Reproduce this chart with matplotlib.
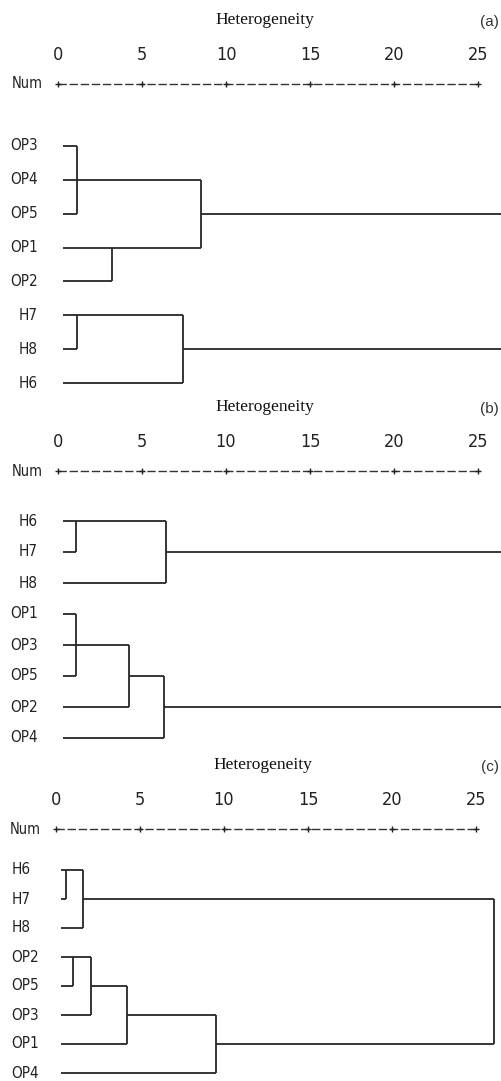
import matplotlib
matplotlib.use('Agg')
import matplotlib.pyplot as plt

# Dendrogram data (rescaled distance, 0-25)
leaves_a = ['OP3', 'OP4', 'OP5', 'OP1', 'OP2', 'H7', 'H8', 'H6']
# each merge: rows joined, height, row the new cluster continues from
merges_a = [([0, 1, 2], 1.1, 1), ([3, 4], 3.2, 3), ([1, 3], 8.5, 2),
            ([5, 6], 1.1, 5), ([5, 7], 7.4, 6), ([2, 6], 26.6, None)]

leaves_b = ['H6', 'H7', 'H8', 'OP1', 'OP3', 'OP5', 'OP2', 'OP4']
merges_b = [([0, 1], 1.1, 0), ([0, 2], 6.4, 1), ([3, 4, 5], 1.1, 4),
            ([4, 6], 4.2, 5), ([5, 7], 6.3, 6), ([1, 6], 26.6, None)]

leaves_c = ['H6', 'H7', 'H8', 'OP2', 'OP5', 'OP3', 'OP1', 'OP4']
merges_c = [([0, 1], 0.6, 0), ([0, 2], 1.6, 1), ([3, 4], 1.0, 3),
            ([3, 5], 2.1, 4), ([4, 6], 4.2, 5), ([5, 7], 9.5, 6),
            ([1, 6], 26.1, None)]

scale_ticks = [0, 5, 10, 15, 20, 25]
panel_tags = ['(a)', '(b)', '(c)']

W, H = 501, 1081
PX = 16.8          # pixels per distance unit
LINE = '#262626'
MONO = dict(family='DejaVu Sans', fontstretch='condensed', color='#222222')

fig = plt.figure(figsize=(W / 100, H / 100), dpi=100)


def panel(top, bottom, x0, row0, step, leaves, merges, tag, label_ha):
    # axes spanning the full width and the given pixel band
    ax = fig.add_axes([0, 1 - bottom / H, 1, (bottom - top) / H])
    ax.set_xlim(-x0 / PX, (W - x0) / PX)
    ax.set_ylim((bottom - row0) / step, (top - row0) / step)
    ax.axis('off')

    def row(py):
        return (py - row0) / step

    # header: title, tag, scale numbers and the Num ruler
    ax.text(12.3, row(top + 20), 'Heterogeneity', family='Liberation Serif',
            fontsize=12.5, ha='center', va='center', color='#111111')
    ax.text((W - 2 - x0) / PX, row(top + 22), tag, family='Liberation Sans',
            fontsize=11, ha='right', va='center', color='#333333')
    for t in scale_ticks:
        ax.text(t, row(top + 55), str(t), fontsize=13, ha='center',
                va='center', **MONO)
    yr = row(top + 84)
    ax.plot([scale_ticks[0], scale_ticks[-1]], [yr, yr], color='#333333',
            lw=1.0, ls=(0, (6, 2)))
    ax.plot(scale_ticks, [yr] * len(scale_ticks), ls='none', marker='+',
            ms=5, mew=1.0, color='#222222')
    ax.text(-2.75, yr, 'Num', fontsize=10.5, ha='left', va='center', **MONO)

    # leaf labels
    lx = -1.22 if label_ha == 'right' else -2.65
    for i, name in enumerate(leaves):
        ax.text(lx, i, name, fontsize=11, ha=label_ha, va='center', **MONO)

    # tree
    start = [0.3] * len(leaves)
    for rows, h, out in merges:
        for r in rows:
            ax.plot([start[r], h], [r, r], color=LINE, lw=1.3,
                    solid_capstyle='butt')
        ax.plot([h, h], [min(rows), max(rows)], color=LINE, lw=1.3,
                solid_capstyle='butt')
        if out is not None:
            start[out] = h
    return ax


panel(0, 400, 58.3, 146, 33.86, leaves_a, merges_a, panel_tags[0], 'right')
panel(387, 752, 58.0, 521, 31.0, leaves_b, merges_b, panel_tags[1], 'right')
panel(745, 1081, 56.0, 870, 29.0, leaves_c, merges_c, panel_tags[2], 'left')

fig.savefig('out.png', dpi=100, facecolor='white')
